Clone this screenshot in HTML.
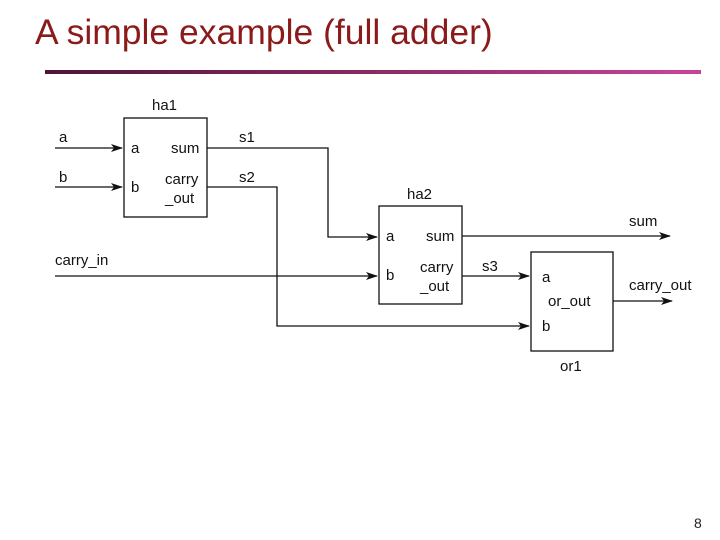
<!DOCTYPE html>
<html><head><meta charset="utf-8"><style>
body{margin:0;width:720px;height:540px;background:#fff;position:relative;overflow:hidden;font-family:"Liberation Sans",sans-serif}
.t{position:absolute;left:35px;top:12px;font-size:35.5px;color:#8b1a1a;white-space:nowrap}
.bar{position:absolute;left:45px;top:70px;width:656px;height:4px;background:linear-gradient(90deg,#4e1538,#8a2a65 50%,#c8449a)}
.pg{position:absolute;left:694px;top:515px;font-size:14px;color:#222}
</style></head><body>
<div class="t">A simple example (full adder)</div>
<div class="bar"></div>
<svg width="720" height="540" style="position:absolute;left:0;top:0" font-family="Liberation Sans, sans-serif" font-size="15" fill="#111">
<defs><marker id="ar" markerWidth="12" markerHeight="8" refX="11" refY="4" orient="auto" markerUnits="userSpaceOnUse"><path d="M0,0 L12,4 L0,8 L3,4 Z" fill="#111"/></marker></defs>
<g stroke="#111" stroke-width="1.3" fill="none">
<rect x="124" y="118" width="83" height="99"/>
<rect x="379" y="206" width="83" height="98"/>
<rect x="531" y="252" width="82" height="99"/>
<line x1="55" y1="148" x2="122" y2="148" marker-end="url(#ar)"/>
<line x1="55" y1="187" x2="122" y2="187" marker-end="url(#ar)"/>
<polyline points="207,148 328,148 328,237 377,237" marker-end="url(#ar)"/>
<polyline points="207,187 277,187 277,326 529,326" marker-end="url(#ar)"/>
<line x1="55" y1="276" x2="377" y2="276" marker-end="url(#ar)"/>
<line x1="462" y1="276" x2="529" y2="276" marker-end="url(#ar)"/>
<line x1="462" y1="236" x2="670" y2="236" marker-end="url(#ar)"/>
<line x1="613" y1="301" x2="672" y2="301" marker-end="url(#ar)"/>
</g>
<text x="152" y="110">ha1</text>
<text x="59" y="142">a</text><text x="59" y="182">b</text>
<text x="131" y="153">a</text><text x="131" y="192">b</text>
<text x="171" y="153">sum</text><text x="165" y="184">carry</text><text x="165" y="203">_out</text>
<text x="239" y="142">s1</text><text x="239" y="182">s2</text>
<text x="407" y="199">ha2</text>
<text x="386" y="241">a</text><text x="386" y="280">b</text>
<text x="426" y="241">sum</text><text x="420" y="272">carry</text><text x="420" y="291">_out</text>
<text x="482" y="271">s3</text>
<text x="55" y="265">carry_in</text>
<text x="629" y="226">sum</text>
<text x="629" y="290">carry_out</text>
<text x="542" y="282">a</text><text x="548" y="306">or_out</text><text x="542" y="331">b</text>
<text x="560" y="371">or1</text>
</svg>
<div class="pg">8</div>
</body></html>
